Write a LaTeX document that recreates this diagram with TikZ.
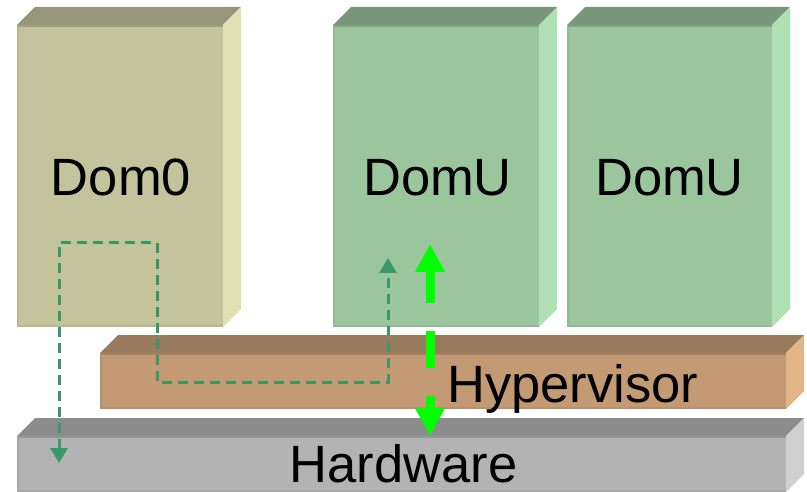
\documentclass[tikz,border=0pt]{standalone}
\usepackage{fontspec}
\setmainfont{Liberation Sans}
\usetikzlibrary{arrows.meta}
\definecolor{dzf}{RGB}{195,196,155}
\definecolor{dzt}{RGB}{150,150,120}
\definecolor{dzs}{RGB}{225,224,179}
\definecolor{duf}{RGB}{155,197,157}
\definecolor{dut}{RGB}{120,151,122}
\definecolor{dus}{RGB}{177,224,181}
\definecolor{hvf}{RGB}{195,154,115}
\definecolor{hvt}{RGB}{152,122,92}
\definecolor{hvs}{RGB}{226,181,136}
\definecolor{hwf}{RGB}{179,179,179}
\definecolor{hwt}{RGB}{140,140,140}
\definecolor{hws}{RGB}{208,208,208}
\definecolor{pathgreen}{RGB}{56,152,104}
\definecolor{brightgreen}{RGB}{0,255,0}
\tikzset{
  front/.style={rectangle, inner sep=0pt, outer sep=0pt, draw=none, anchor=north west},
  boxtext/.style={font=\fontsize{52.5}{60}\selectfont, inner sep=0pt, anchor=base},
  flowpath/.style={pathgreen, line width=3pt, dash pattern=on 10pt off 6pt,
     {Triangle[length=15pt,width=17pt]}-{Triangle[length=15pt,width=17pt]}},
  bigarrow/.style={brightgreen, line width=9pt,
     dash pattern=on 33pt off 28pt on 37pt off 28pt on 20pt,
     {Triangle[length=28pt,width=28pt]}-{Triangle[length=28pt,width=28pt]}}
}
\newcommand{\boxfaces}[4]{%
  \fill[#2] (#1.north west) -- ++(18,-18) -- ([shift={(18,-18)}]#1.north east) -- (#1.north east) -- cycle;
  \fill[#3] (#1.north east) -- ++(18,-18) -- ([shift={(18,-18)}]#1.south east) -- (#1.south east) -- cycle;
  \draw[#4!94!black, line width=2pt] ([shift={(1,0)}]#1.north west) -- ([shift={(1,-1)}]#1.south west) -- ([shift={(0,-1)}]#1.south east);
  \draw[#2!75!#4, line width=2pt] ([shift={(1,1)}]#1.north west) -- ([shift={(0,1)}]#1.north east);
}
\begin{document}
\begin{tikzpicture}[x=1pt,y=-1pt]
\useasboundingbox (0,0) rectangle (807,492);

% Hardware
\node[front, fill=hwf, minimum width=769pt, minimum height=56pt] (hw) at (17,436) {};
\boxfaces{hw}{hwt}{hws}{hwf}
% Hypervisor
\node[front, fill=hvf, minimum width=686pt, minimum height=56pt] (hv) at (100,353) {};
\boxfaces{hv}{hvt}{hvs}{hvf}
% Dom0
\node[front, fill=dzf, minimum width=206pt, minimum height=302pt] (dom0) at (17,25) {};
\boxfaces{dom0}{dzt}{dzs}{dzf}
% DomU 1
\node[front, fill=duf, minimum width=206pt, minimum height=302pt] (domu1) at (333,25) {};
\boxfaces{domu1}{dut}{dus}{duf}
% DomU 2
\node[front, fill=duf, minimum width=205pt, minimum height=302pt] (domu2) at (567,25) {};
\boxfaces{domu2}{dut}{dus}{duf}

% labels
\node[boxtext] (dom0t) at (121,196) {Dom0};
\node[boxtext] (domu1t) at (437.5,196) {DomU};
\node[boxtext] (domu2t) at (669.5,196) {DomU};
\node[boxtext, anchor=base west] (hvt) at (447,402) {Hypervisor};
\node[boxtext] (hwt) at (403.5,482) {Hardware};

% dashed flow path
\coordinate (pA) at (59,463);
\coordinate (pB) at (59,243);
\coordinate (pC) at (157,243);
\coordinate (pD) at (157,382);
\coordinate (pE) at (388,382);
\coordinate (pF) at (388,258);
\draw[flowpath] (pA) -- (pB) -- (pC) -- (pD) -- (pE) -- (pF);

% bright green double arrow
\coordinate (gT) at (430,244);
\coordinate (gB) at (430,436);
\draw[bigarrow] (gT) -- (gB);
\end{tikzpicture}
\end{document}
